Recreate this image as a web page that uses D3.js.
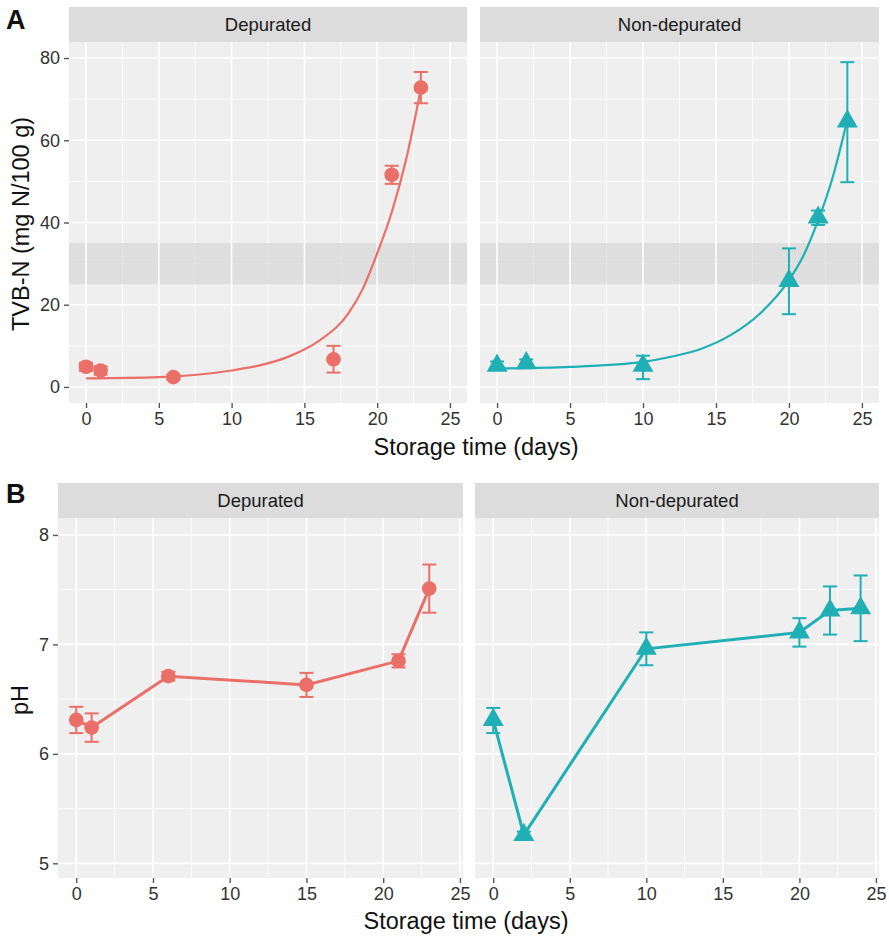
<!DOCTYPE html>
<html>
<head>
<meta charset="utf-8">
<script src="https://cdn.jsdelivr.net/npm/d3@7"></script>
<style>
  body { margin: 0; background: #fff; }
  text { font-family: "Liberation Sans", Arial, sans-serif; }
</style>
</head>
<body>
<svg id="chart" width="889" height="937"></svg>
<script>
// ---- data ----
const groups = ["Depurated", "Non-depurated"]

// A: TVB-N (mg N/100 g)
const tvbDepDays = [0, 1, 6, 17, 21, 23]
const tvbDepMean = [4.9, 4.0, 2.4, 6.7, 51.6, 72.8]
const tvbDepLo   = [3.9, 3.0, 1.8, 3.5, 49.4, 69.0]
const tvbDepHi   = [5.9, 5.0, 3.0, 10.0, 53.8, 76.6]
const tvbDepFitX = [0, 5, 10, 12, 14, 16, 18, 19, 20, 21, 22, 23]
const tvbDepFitY = [2.1, 2.4, 4.0, 5.3, 7.5, 11.2, 17.8, 23.8, 32.5, 42.5, 55.5, 72.5]

const tvbNonDays = [0, 2, 10, 20, 22, 24]
const tvbNonMean = [5.2, 5.8, 5.2, 25.8, 41.2, 64.6]
const tvbNonLo   = [4.2, 4.9, 1.9, 17.7, 39.4, 49.8]
const tvbNonHi   = [6.2, 6.7, 7.6, 33.7, 42.9, 79.0]
const tvbNonFitX = [0, 5, 10, 12, 14, 16, 18, 20, 21, 22, 23, 24]
const tvbNonFitY = [4.5, 4.9, 6.1, 7.4, 9.3, 12.6, 17.8, 26.0, 32.0, 40.5, 51.0, 65.0]

const tvbLimitBand = [25, 35]
const tvbTicks = [0, 20, 40, 60, 80]

// B: pH
const phDepDays = [0, 1, 6, 15, 21, 23]
const phDepMean = [6.31, 6.24, 6.71, 6.63, 6.85, 7.51]
const phDepLo   = [6.19, 6.11, 6.67, 6.52, 6.79, 7.29]
const phDepHi   = [6.43, 6.37, 6.75, 6.74, 6.91, 7.73]

const phNonDays = [0, 2, 10, 20, 22, 24]
const phNonMean = [6.31, 5.26, 6.96, 7.11, 7.31, 7.33]
const phNonLo   = [6.19, 5.23, 6.81, 6.98, 7.09, 7.03]
const phNonHi   = [6.42, 5.29, 7.11, 7.24, 7.53, 7.63]

const phTicks = [5, 6, 7, 8]
const dayTicks = [0, 5, 10, 15, 20, 25]

const colors = ["#ea6f68", "#1fafb4"]

// ---- layout ----
const svg = d3.select("#chart")
const panelBg = "#efeff0", stripBg = "#dcdcdc"

function zip(xs, ys, lo, hi) {
    return xs.map((x, i) => ({x: x, y: ys[i], lo: lo ? lo[i] : null, hi: hi ? hi[i] : null}))
}

function drawPanel(opt) {
    const x = d3.scaleLinear().domain(opt.xDomain).range([opt.left, opt.right])
    const y = d3.scaleLinear().domain(opt.yDomain).range([opt.bottom, opt.top])
    const g = svg.append("g")

    // strip
    g.append("rect").attr("x", opt.left).attr("y", opt.stripTop)
        .attr("width", opt.right - opt.left).attr("height", opt.top - opt.stripTop)
        .attr("fill", stripBg)
    g.append("text").attr("x", (opt.left + opt.right) / 2).attr("y", (opt.stripTop + opt.top) / 2)
        .attr("dy", "0.36em").attr("text-anchor", "middle")
        .attr("font-size", 18.5).attr("fill", "#1a1a1a").text(opt.label)

    g.append("rect").attr("x", opt.left).attr("y", opt.top)
        .attr("width", opt.right - opt.left).attr("height", opt.bottom - opt.top)
        .attr("fill", panelBg)

    // minor grid
    const xMinor = dayTicks.slice(0, -1).map((d, i) => (d + dayTicks[i + 1]) / 2)
    const yMinor = opt.yTicks.slice(0, -1).map((d, i) => (d + opt.yTicks[i + 1]) / 2)
    g.selectAll(".xminor").data(xMinor).enter().append("line")
        .attr("x1", d => x(d)).attr("x2", d => x(d)).attr("y1", opt.top).attr("y2", opt.bottom)
        .attr("stroke", "#fff").attr("stroke-width", 0.8)
    g.selectAll(".yminor").data(yMinor).enter().append("line")
        .attr("y1", d => y(d)).attr("y2", d => y(d)).attr("x1", opt.left).attr("x2", opt.right)
        .attr("stroke", "#fff").attr("stroke-width", 0.8)

    // band
    if (opt.band) {
        g.append("rect").attr("x", opt.left).attr("width", opt.right - opt.left)
            .attr("y", y(opt.band[1])).attr("height", y(opt.band[0]) - y(opt.band[1]))
            .attr("fill", "#cfcfcf").attr("opacity", 0.55)
    }

    // major grid
    g.selectAll(".xmajor").data(dayTicks).enter().append("line")
        .attr("x1", d => x(d)).attr("x2", d => x(d)).attr("y1", opt.top).attr("y2", opt.bottom)
        .attr("stroke", "#fff").attr("stroke-width", 1.6)
    g.selectAll(".ymajor").data(opt.yTicks).enter().append("line")
        .attr("y1", d => y(d)).attr("y2", d => y(d)).attr("x1", opt.left).attr("x2", opt.right)
        .attr("stroke", "#fff").attr("stroke-width", 1.6)

    // axes
    const xAxis = g.append("g").attr("transform", "translate(0," + opt.bottom + ")")
        .call(d3.axisBottom(x).tickValues(dayTicks).tickFormat(d3.format("d")).tickSize(5).tickPadding(4))
    styleAxis(xAxis)
    if (opt.showY) {
        const yAxis = g.append("g").attr("transform", "translate(" + opt.left + ",0)")
            .call(d3.axisLeft(y).tickValues(opt.yTicks).tickFormat(d3.format("d")).tickSize(5).tickPadding(4))
        styleAxis(yAxis)
    }

    const col = opt.color
    // line / fitted curve
    const line = d3.line().x(d => x(d.x)).y(d => y(d.y))
    if (opt.fit) {
        line.curve(d3.curveMonotoneX)
        g.append("path").datum(opt.fit).attr("d", line)
            .attr("fill", "none").attr("stroke", col).attr("stroke-width", 2.2)
    } else {
        g.append("path").datum(opt.points).attr("d", line)
            .attr("fill", "none").attr("stroke", col).attr("stroke-width", 3)
    }

    // error bars
    const cap = 7
    const eb = g.selectAll(".eb").data(opt.points).enter().append("g")
        .attr("stroke", col).attr("stroke-width", 2)
    eb.append("line").attr("x1", d => x(d.x)).attr("x2", d => x(d.x))
        .attr("y1", d => y(d.lo)).attr("y2", d => y(d.hi))
    eb.append("line").attr("x1", d => x(d.x) - cap).attr("x2", d => x(d.x) + cap)
        .attr("y1", d => y(d.lo)).attr("y2", d => y(d.lo))
    eb.append("line").attr("x1", d => x(d.x) - cap).attr("x2", d => x(d.x) + cap)
        .attr("y1", d => y(d.hi)).attr("y2", d => y(d.hi))

    // points
    const sym = d3.symbol().type(opt.shape).size(opt.shape === d3.symbolCircle ? 170 : 190)
    g.selectAll(".pt").data(opt.points).enter().append("path")
        .attr("d", sym)
        .attr("transform", d => "translate(" + x(d.x) + "," + y(d.y) + ")")
        .attr("fill", col)
}

function styleAxis(a) {
    a.select(".domain").remove()
    a.selectAll(".tick line").attr("stroke", "#555").attr("stroke-width", 1.4)
    a.selectAll(".tick text").attr("font-size", 18).attr("fill", "#333")
        .attr("font-family", "Liberation Sans, Arial, sans-serif")
}

// ---- row A ----
const rowA = {stripTop: 7, top: 42, bottom: 403, xDomain: [-1.17, 26.17], yDomain: [-3.9, 83.9], yTicks: tvbTicks, band: tvbLimitBand}
drawPanel(Object.assign({}, rowA, {left: 69, right: 467, label: groups[0], showY: true, color: colors[0],
    shape: d3.symbolCircle, points: zip(tvbDepDays, tvbDepMean, tvbDepLo, tvbDepHi), fit: zip(tvbDepFitX, tvbDepFitY)}))
drawPanel(Object.assign({}, rowA, {left: 480, right: 879, label: groups[1], showY: false, color: colors[1],
    shape: d3.symbolTriangle, points: zip(tvbNonDays, tvbNonMean, tvbNonLo, tvbNonHi), fit: zip(tvbNonFitX, tvbNonFitY)}))

// ---- row B ----
const rowB = {stripTop: 483, top: 518, bottom: 878, xDomain: [-1.19, 25.2], yDomain: [4.866, 8.155], yTicks: phTicks}
drawPanel(Object.assign({}, rowB, {left: 58, right: 463, label: groups[0], showY: true, color: colors[0],
    shape: d3.symbolCircle, points: zip(phDepDays, phDepMean, phDepLo, phDepHi)}))
drawPanel(Object.assign({}, rowB, {left: 475, right: 879, label: groups[1], showY: false, color: colors[1],
    shape: d3.symbolTriangle, points: zip(phNonDays, phNonMean, phNonLo, phNonHi)}))

// ---- titles ----
svg.append("text").attr("x", 476).attr("y", 455).attr("text-anchor", "middle")
    .attr("font-size", 23.5).attr("fill", "#111").text("Storage time (days)")
svg.append("text").attr("x", 466).attr("y", 929).attr("text-anchor", "middle")
    .attr("font-size", 23.5).attr("fill", "#111").text("Storage time (days)")
svg.append("text").attr("transform", "translate(29,224) rotate(-90)").attr("text-anchor", "middle")
    .attr("font-size", 23.5).attr("fill", "#111").text("TVB-N (mg N/100 g)")
svg.append("text").attr("transform", "translate(28,700) rotate(-90)").attr("text-anchor", "middle")
    .attr("font-size", 23.5).attr("fill", "#111").text("pH")
svg.append("text").attr("x", 6).attr("y", 29).attr("font-size", 27).attr("font-weight", "bold")
    .attr("fill", "#111").text("A")
svg.append("text").attr("x", 6).attr("y", 503).attr("font-size", 27).attr("font-weight", "bold")
    .attr("fill", "#111").text("B")
</script>
</body>
</html>
